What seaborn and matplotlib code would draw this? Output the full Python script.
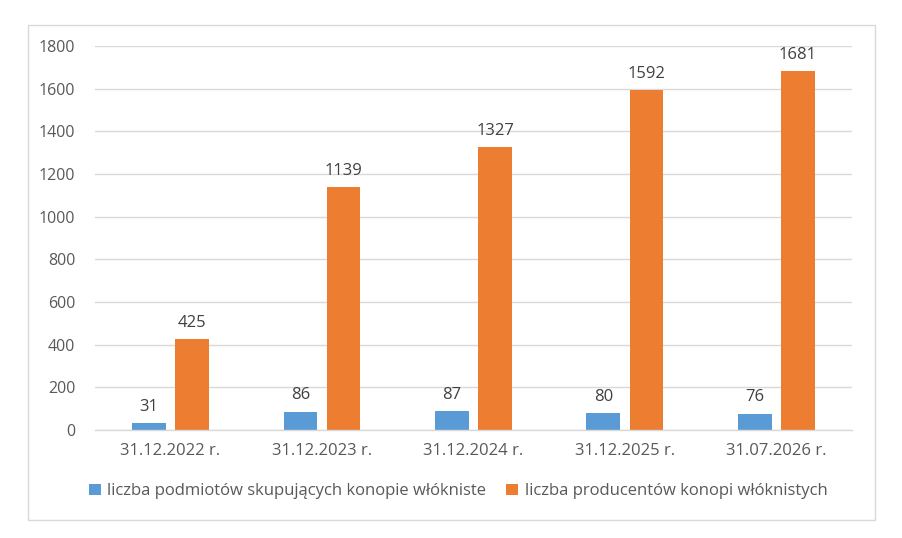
import pandas as pd
import seaborn as sns
import matplotlib.pyplot as plt
from matplotlib.patches import Rectangle

# data
dates = ["31.12.2022 r.", "31.12.2023 r.", "31.12.2024 r.", "31.12.2025 r.", "31.07.2026 r."]
skupujacy = [31, 86, 87, 80, 76]
producenci = [425, 1139, 1327, 1592, 1681]
series_names = ["liczba podmiotów skupujących konopie włókniste",
                "liczba producentów konopi włóknistych"]

df = pd.DataFrame({
    "data": dates * 2,
    "wartosc": skupujacy + producenci,
    "seria": [series_names[0]] * len(dates) + [series_names[1]] * len(dates),
})

sns.set_theme(style="white")
plt.rcParams['font.family'] = ['Open Sans', 'DejaVu Sans']

fig = plt.figure(figsize=(9.03, 5.38), dpi=100)
ax = fig.add_axes([0.105, 0.2007, 0.8385, 0.7138])

# outer chart border
fig.patches.append(Rectangle((28 / 903, 1 - 520 / 538), 847 / 903, 495 / 538,
                             transform=fig.transFigure, fill=False,
                             edgecolor="#D9D9D9", linewidth=1))

sns.barplot(data=df, x="data", y="wartosc", hue="seria", order=dates,
            hue_order=series_names, palette=["#5B9BD5", "#ED7D31"],
            saturation=1, linewidth=0, width=0.57, gap=0.22, ax=ax)

for cont in ax.containers:
    ax.bar_label(cont, padding=6, fontsize=12, color="#404040")

ax.set_ylim(0, 1800)
ax.set_yticks(range(0, 1801, 200))
ax.set_xlim(-0.5, len(dates) - 0.5)
ax.yaxis.grid(True, color="#D9D9D9", linewidth=1)
ax.set_axisbelow(True)
ax.set_xlabel("")
ax.set_ylabel("")

for s in ["top", "right", "left"]:
    ax.spines[s].set_visible(False)
ax.spines["bottom"].set_color("#D9D9D9")
ax.spines["bottom"].set_linewidth(1)

ax.tick_params(axis="y", length=0, pad=14, labelsize=11.5, labelcolor="#595959")
ax.tick_params(axis="x", length=0, pad=9, labelsize=12, labelcolor="#595959")
# tick marks between categories
ax.set_xticks([i - 0.5 for i in range(len(dates) + 1)], minor=True)
ax.tick_params(axis="x", which="minor", length=6, color="#D9D9D9", width=1)

ax.legend(loc="upper center", bbox_to_anchor=(0.48, -0.1), ncol=2, frameon=False,
          fontsize=12, labelcolor="#595959", handlelength=0.7, handleheight=0.7,
          handletextpad=0.4, columnspacing=1.2)

fig.savefig("out.png", dpi=100)
